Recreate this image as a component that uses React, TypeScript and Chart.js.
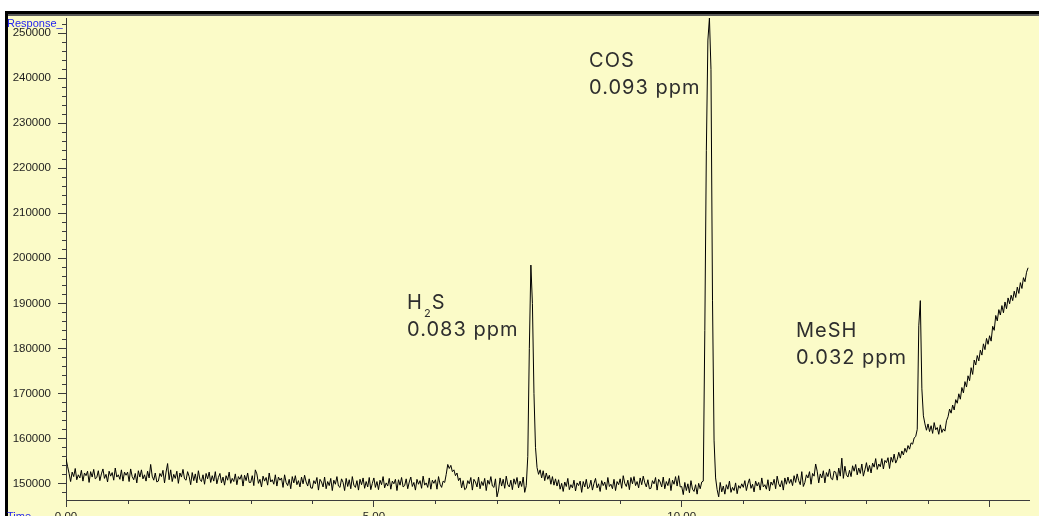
import React, { useEffect, useRef } from 'react';
import { Chart, registerables } from 'chart.js';

Chart.register(...registerables);

// ---------- data ----------
// detector sampled every 0.025 min, starting at 0.00 min
const SAMPLE_START = 0;
const SAMPLE_STEP = 0.025;

// detector response (one row per half minute)
const response: number[] = [
  155500, 153800, 152200, 150400, 152500, 151500, 153300, 150800, 151900, 151200, 152900, 150500, 152300, 151700, 152700, 150200, 152600, 151400, 153100, 151000,
  151300, 152800, 150600, 152100, 153200, 151100, 152000, 150300, 152700, 151600, 152400, 150700, 153400, 151400, 151900, 150900, 153000, 150500, 152500, 151800,
  152500, 150400, 153200, 151500, 150800, 152200, 150100, 152800, 151400, 153000, 151000, 151900, 150500, 152700, 151200, 154200, 151600, 150700, 152300, 150300,
  150500, 152200, 151500, 152900, 150100, 152500, 154400, 150800, 153000, 150400, 152000, 151100, 152700, 150000, 152300, 151400, 153100, 151000, 150700, 152600,
  151500, 149700, 152400, 150600, 152100, 150100, 152800, 150900, 150400, 151900, 149800, 152200, 151000, 152500, 150200, 151700, 150500, 152600, 149900, 151300,
  152200, 150100, 151400, 149600, 151700, 150700, 152500, 150000, 151100, 150400, 152100, 149700, 151500, 150900, 151900, 149400, 151800, 150600, 152300, 150200,
  150200, 151700, 149500, 153000, 152100, 150000, 150900, 149200, 151600, 150500, 151300, 149600, 152300, 150300, 150800, 149800, 151900, 149400, 151400, 150700,
  151200, 149100, 151900, 150200, 149500, 150900, 148800, 151500, 150100, 151700, 149700, 150600, 149200, 151400, 149900, 151800, 150300, 149400, 151000, 149000,
  148900, 150600, 149900, 151300, 148500, 150900, 150300, 149200, 151400, 148800, 150400, 149500, 151100, 148400, 150700, 149800, 151500, 149400, 149100, 151000,
  150200, 148400, 151100, 149300, 150800, 148800, 151500, 149600, 149100, 150600, 148500, 150900, 149700, 151200, 148900, 150400, 149200, 151300, 148600, 150000,
  151200, 149100, 150400, 148600, 150700, 149700, 151500, 149000, 150100, 149400, 151100, 148700, 150500, 149900, 150900, 148400, 150800, 149600, 151300, 149200,
  149500, 151000, 148800, 150300, 151400, 149300, 150200, 148500, 150900, 149800, 150600, 148900, 151600, 149600, 150100, 149100, 151200, 148700, 150700, 150000,
  150800, 148700, 151500, 149800, 149100, 150500, 150200, 152000, 154200, 153300, 154000, 152600, 153000, 151700, 152300, 150600, 151200, 149000, 150600, 148600,
  148900, 150600, 149900, 151300, 148500, 150900, 150300, 149200, 151400, 148800, 150400, 149500, 151100, 148400, 150700, 149800, 151500, 149400, 149100, 151000,
  147000, 148500, 151200, 149400, 150900, 148900, 151600, 149700, 149200, 150700, 148600, 151000, 149800, 151300, 149000, 150500, 149300, 151400, 148000, 149500,
  156000, 180000, 198500, 190000, 170000, 158000, 153500, 152000, 153000, 151200, 152800, 150600, 152300, 150900, 151800, 149800, 151500, 149600, 151000, 149400,
  150800, 148700, 150000, 148200, 150300, 149300, 151100, 148600, 149700, 149000, 150700, 148300, 150100, 149500, 150500, 148000, 150400, 149200, 150900, 148800,
  149200, 150700, 148500, 150000, 151100, 149000, 149900, 148200, 150600, 149500, 150300, 148600, 151300, 149300, 149800, 148800, 150900, 148400, 150400, 149700,
  151000, 148900, 151700, 150000, 149300, 150700, 148600, 151300, 149900, 151500, 149500, 150400, 149000, 151200, 149700, 151600, 150100, 149200, 150800, 148800,
  148900, 150600, 149900, 151300, 148500, 150900, 150300, 149200, 151400, 148800, 150400, 149500, 151100, 148400, 150700, 149800, 151500, 149400, 151700, 149200,
  149300, 147500, 150200, 148400, 149900, 147900, 150600, 148700, 148200, 149700, 147600, 150000, 148800, 150300, 150500, 184000, 224000, 248500, 253400, 242000,
  190700, 159600, 151200, 148600, 147000, 150200, 148100, 149400, 147600, 149700, 148700, 150500, 148000, 149100, 148400, 150100, 147700, 149500, 148900, 149900,
  149100, 150600, 148400, 149900, 151000, 148900, 149800, 148100, 150500, 149400, 150200, 148500, 151200, 149200, 149700, 148700, 150800, 148300, 150300, 149600,
  150900, 148800, 151600, 149900, 149200, 150600, 148500, 151200, 149800, 151400, 150000, 150900, 149500, 151700, 150200, 152100, 150600, 149700, 152600, 149300,
  150200, 151900, 151200, 152600, 149800, 152200, 151600, 154300, 152700, 150100, 152100, 151200, 152800, 150100, 152400, 151500, 153200, 151100, 150800, 152700,
  152500, 150700, 153400, 151600, 155600, 151100, 153800, 151900, 151400, 152900, 151500, 153900, 152700, 154200, 151900, 153400, 152200, 154300, 151600, 153000,
  154600, 152600, 154000, 152300, 154500, 153600, 155500, 153100, 154300, 153700, 155500, 153200, 155100, 154600, 155700, 153300, 155800, 154700, 156500, 154500,
  155300, 156900, 155600, 157200, 156300, 157800, 156900, 158400, 157600, 159000, 158700, 160100, 160400, 162000, 185000, 190600, 171000, 165000, 163200, 161800,
  163200, 161500, 162800, 161100, 163500, 161900, 162400, 160900, 163000, 161300, 162100, 161600, 163900, 164800, 166500, 165600, 167400, 166300, 168600, 167800,
  169900, 168700, 171300, 170100, 172600, 171400, 173900, 172800, 175700, 174200, 177400, 176300, 178400, 177200, 179600, 178500, 181000, 179700, 182200, 180900,
  182800, 181600, 184900, 184000, 187300, 186100, 188600, 187400, 189500, 187900, 190300, 188800, 191200, 189900, 191800, 190600, 192700, 191300, 193600, 192200,
  194600, 193300, 195700, 194800, 196900, 197900,
];

// axis ticks
const xMajorTicks = [0, 5, 10, 15];
const xTickLabels = ['0.00', '5.00', '10.00', ''];
const xMinorTicks = [1, 2, 3, 4, 6, 7, 8, 9, 11, 12, 13, 14];
const yMajorTicks = [150000, 160000, 170000, 180000, 190000, 200000, 210000, 220000, 230000, 240000, 250000];
const yTickLabels = ['150000', '160000', '170000', '180000', '190000', '200000', '210000', '220000', '230000', '240000', '250000'];
const yMinorStep = 2000;

// peak annotations
const peakNames = ['H2S', 'COS', 'MeSH'];
const peakAmounts = ['0.083 ppm', '0.093 ppm', '0.032 ppm'];
const labelTimes = [5.54, 8.495, 11.855];
const labelResponses = [188700, 242440, 182510];

const X_MIN = 0;
const X_MAX = 15.64;
const Y_MIN = 146300;
const Y_MAX = 253400;

// ---------- styles ----------
const BG = '#fbfbc8';
const AXIS = '#3c3c3c';
const TICK_FONT = "'Liberation Sans', Arial, sans-serif";
const NOTE_FONT = "Inter, 'Open Sans', sans-serif";

const decorPlugin = {
  id: 'decor',
  beforeDraw(chart: any) {
    const { ctx, width, height } = chart;
    ctx.save();
    ctx.fillStyle = '#ffffff';
    ctx.fillRect(0, 0, width, height);
    ctx.fillStyle = BG;
    ctx.fillRect(5, 11, width - 5, height - 11);
    ctx.fillStyle = '#000000';
    ctx.fillRect(5, 11, width - 5, 3);
    ctx.fillStyle = '#5a5a5a';
    ctx.fillRect(8, 14, width - 8, 2);
    ctx.fillStyle = '#000000';
    ctx.fillRect(5, 11, 3, height - 11);
    ctx.restore();
  },
  afterDraw(chart: any) {
    const { ctx, chartArea } = chart;
    const xs = chart.scales.x;
    const ys = chart.scales.y;
    ctx.save();
    // minor ticks
    ctx.strokeStyle = AXIS;
    ctx.lineWidth = 1;
    ctx.beginPath();
    for (const v of xMinorTicks) {
      const px = Math.round(xs.getPixelForValue(v)) + 0.5;
      ctx.moveTo(px, chartArea.bottom);
      ctx.lineTo(px, chartArea.bottom + 4);
    }
    for (let v = Math.ceil(Y_MIN / yMinorStep) * yMinorStep; v <= Y_MAX; v += yMinorStep) {
      if (v % 10000 === 0) continue;
      const py = Math.round(ys.getPixelForValue(v)) + 0.5;
      ctx.moveTo(chartArea.left - 4, py);
      ctx.lineTo(chartArea.left, py);
    }
    ctx.stroke();

    // axis titles
    ctx.fillStyle = '#2323f0';
    ctx.font = `11px ${TICK_FONT}`;
    ctx.textBaseline = 'alphabetic';
    ctx.textAlign = 'left';
    ctx.fillText('Response_', 7, 27);
    ctx.fillText('Time', 7, 520);

    // peak annotations
    ctx.fillStyle = '#2e2e2e';
    for (let i = 0; i < peakNames.length; i++) {
      const x = xs.getPixelForValue(labelTimes[i]);
      const y = ys.getPixelForValue(labelResponses[i]);
      let cx = x;
      (ctx as any).letterSpacing = '0px';
      for (const ch of peakNames[i]) {
        if (/[0-9]/.test(ch)) {
          ctx.font = `11px ${NOTE_FONT}`;
          ctx.fillText(ch, cx + 1, y + 8);
          cx += ctx.measureText(ch).width + 2;
        } else {
          ctx.font = `20px ${NOTE_FONT}`;
          ctx.fillText(ch, cx, y);
          cx += ctx.measureText(ch).width + 1;
        }
      }
      (ctx as any).letterSpacing = '1px';
      ctx.font = `20px ${NOTE_FONT}`;
      ctx.fillText(peakAmounts[i], x, y + 27);
    }
    ctx.restore();
  },
};

export default function App() {
  const canvasRef = useRef<HTMLCanvasElement | null>(null);

  useEffect(() => {
    const canvas = canvasRef.current;
    if (!canvas) return;
    const points = response.map((v, i) => ({ x: SAMPLE_START + i * SAMPLE_STEP, y: v }));
    const chart = new Chart(canvas, {
      type: 'line',
      data: {
        datasets: [
          {
            data: points,
            borderColor: '#000000',
            borderWidth: 1,
            pointRadius: 0,
            tension: 0,
            fill: false,
          },
        ],
      },
      options: {
        responsive: false,
        animation: false,
        devicePixelRatio: 1,
        events: [],
        layout: { padding: { left: 0, right: 10, top: 18, bottom: 0 } },
        plugins: { legend: { display: false }, tooltip: { enabled: false } },
        scales: {
          x: {
            type: 'linear',
            min: X_MIN,
            max: X_MAX,
            border: { display: true, color: AXIS, width: 1 },
            grid: { display: true, drawOnChartArea: false, drawTicks: true, tickLength: 7, color: AXIS },
            afterBuildTicks: (scale: any) => {
              scale.ticks = xMajorTicks.map((v) => ({ value: v }));
            },
            afterFit: (scale: any) => {
              scale.height = 16;
            },
            ticks: {
              autoSkip: false,
              maxRotation: 0,
              padding: 3,
              color: '#1e1e1e',
              font: { family: TICK_FONT, size: 11.5 },
              callback: (v: any) => {
                const idx = xMajorTicks.indexOf(Number(v));
                return idx >= 0 ? xTickLabels[idx] : '';
              },
            },
          },
          y: {
            type: 'linear',
            min: Y_MIN,
            max: Y_MAX,
            border: { display: true, color: AXIS, width: 1 },
            grid: { display: true, drawOnChartArea: false, drawTicks: true, tickLength: 8, color: AXIS },
            afterBuildTicks: (scale: any) => {
              scale.ticks = yMajorTicks.map((v) => ({ value: v }));
            },
            afterFit: (scale: any) => {
              scale.width = 66;
            },
            ticks: {
              autoSkip: false,
              padding: 7,
              color: '#1e1e1e',
              font: { family: TICK_FONT, size: 11.5 },
              callback: (v: any) => {
                const idx = yMajorTicks.indexOf(Number(v));
                return idx >= 0 ? yTickLabels[idx] : '';
              },
            },
          },
        },
      },
      plugins: [decorPlugin],
    });
    return () => chart.destroy();
  }, []);

  return (
    <div style={{ position: 'fixed', left: 0, top: 0, width: 1039, height: 516, overflow: 'hidden' }}>
      <canvas ref={canvasRef} width={1039} height={516} style={{ display: 'block', width: 1039, height: 516 }} />
    </div>
  );
}
